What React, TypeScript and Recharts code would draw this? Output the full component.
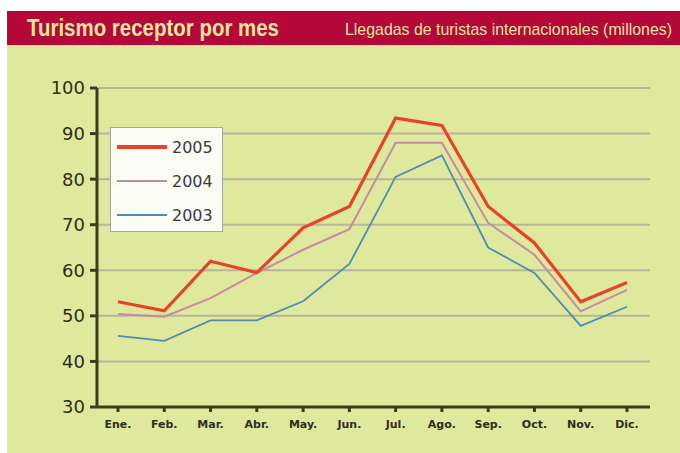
import React from "react";
import { LineChart, Line, XAxis, YAxis, CartesianGrid } from "recharts";

const months = ["Ene.", "Feb.", "Mar.", "Abr.", "May.", "Jun.", "Jul.", "Ago.", "Sep.", "Oct.", "Nov.", "Dic."];
const y2005 = [53.1, 51.1, 62, 59.5, 69.3, 74, 93.4, 91.8, 74, 66, 53.1, 57.3];
const y2004 = [50.4, 49.8, 53.9, 59.4, 64.5, 69, 88, 88, 70.4, 63.4, 51, 55.7];
const y2003 = [45.6, 44.5, 49, 49, 53.2, 61.4, 80.5, 85.2, 65, 59.4, 47.8, 52];
const yTicks = [30, 40, 50, 60, 70, 80, 90, 100];

const series = [
  { key: "2005", color: "#e8432a", width: 3.2 },
  { key: "2004", color: "#c48ca4", width: 2 },
  { key: "2003", color: "#4d8db4", width: 1.8 },
];

const data = months.map((m, i) => ({
  month: m,
  "2005": y2005[i],
  "2004": y2004[i],
  "2003": y2003[i],
}));

// legend box sits over the plot, like the printed chart
function LegendBox() {
  return (
    <div
      style={{
        position: "absolute",
        left: 110,
        top: 127,
        width: 113,
        height: 105,
        background: "#fbfcf4",
        border: "1px solid #a8a89a",
        boxSizing: "border-box",
        paddingTop: 2,
        fontFamily: "DejaVu Sans, sans-serif",
        fontSize: 16,
        color: "#3a3a3a",
      }}
    >
      {series.map((s) => (
        <div key={s.key} style={{ display: "flex", alignItems: "center", height: 34 }}>
          <div style={{ marginLeft: 6, width: 50, height: s.width, background: s.color }} />
          <span style={{ marginLeft: 5 }}>{s.key}</span>
        </div>
      ))}
    </div>
  );
}

export default function App() {
  return (
    <div style={{ position: "absolute", left: 0, top: 0, width: 680, height: 453, background: "#fff" }}>
      <div style={{ position: "absolute", left: 7, top: 11, width: 673, height: 34, background: "#b30838" }}>
        <svg width={673} height={34} style={{ display: "block" }}>
          <text
            x={20}
            y={25}
            fill="#e6e6a0"
            fontSize={23}
            fontWeight="bold"
            fontFamily="Liberation Sans, sans-serif"
            textLength={252}
            lengthAdjust="spacingAndGlyphs"
          >
            Turismo receptor por mes
          </text>
          <text
            x={338}
            y={24}
            fill="#e6e6a0"
            fontSize={17}
            fontFamily="Liberation Sans, sans-serif"
            textLength={327}
            lengthAdjust="spacingAndGlyphs"
          >
            Llegadas de turistas internacionales (millones)
          </text>
        </svg>
      </div>
      <div style={{ position: "absolute", left: 7, top: 45, width: 673, height: 408, background: "#dfe99d" }}>
        <LineChart width={673} height={408} data={data} margin={{ top: 43, right: 30, bottom: 0, left: 0 }}>
          <CartesianGrid vertical={false} stroke="#b9b59a" strokeWidth={2} />
          <XAxis
            dataKey="month"
            padding={{ left: 21, right: 23 }}
            height={46}
            stroke="#3d3d1c"
            strokeWidth={3}
            tickSize={5}
            tickMargin={8}
            tick={{ fill: "#2e2e20", fontSize: 11, fontWeight: "bold", fontFamily: "DejaVu Sans, sans-serif" }}
          />
          <YAxis
            width={90}
            domain={[30, 100]}
            ticks={yTicks}
            interval={0}
            stroke="#3d3d1c"
            strokeWidth={3}
            tickSize={7}
            tickMargin={5}
            tick={{ fill: "#2e2e14", fontSize: 18, fontFamily: "DejaVu Sans, sans-serif" }}
          />
          <Line dataKey="2003" stroke="#4d8db4" strokeWidth={1.8} dot={false} isAnimationActive={false} />
          <Line dataKey="2004" stroke="#c48ca4" strokeWidth={2} dot={false} isAnimationActive={false} />
          <Line dataKey="2005" stroke="#e8432a" strokeWidth={3.2} dot={false} isAnimationActive={false} />
        </LineChart>
      </div>
      <LegendBox />
    </div>
  );
}
